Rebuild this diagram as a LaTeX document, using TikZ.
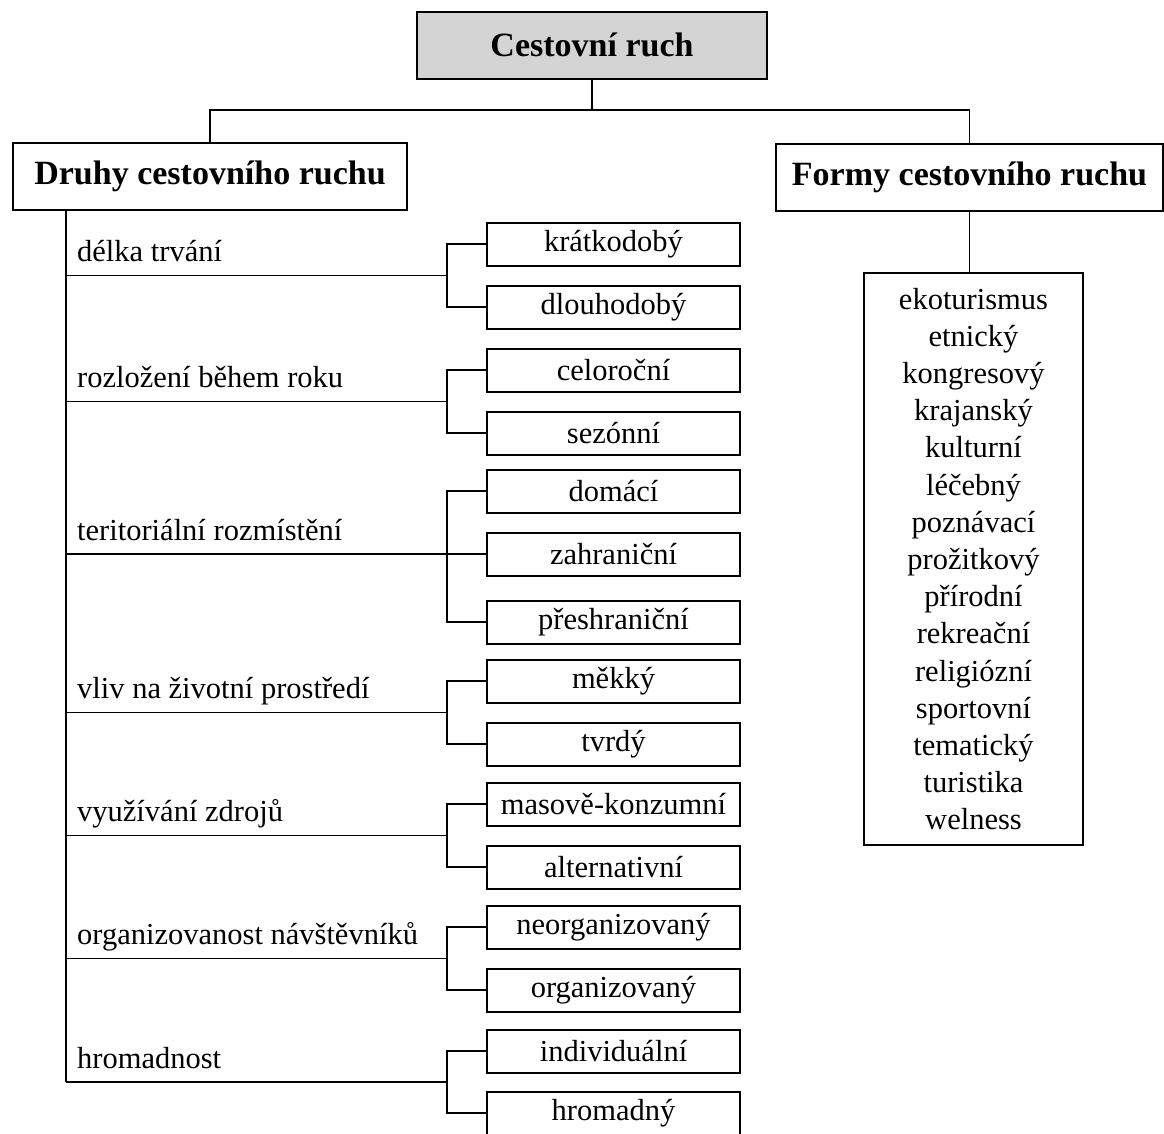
\documentclass[tikz,border=0pt]{standalone}
\usepackage{fontspec}
\setmainfont{Liberation Serif}
\usepackage{tikz}
\usetikzlibrary{positioning,calc}

\tikzset{
  headbox/.style={draw, line width=2pt, inner sep=0pt, minimum height=67pt,
    font=\fontsize{34}{40}\selectfont\bfseries},
  subbox/.style={draw, line width=2pt, inner sep=0pt, minimum width=253pt,
    minimum height=43pt, font=\fontsize{30.5}{36}\selectfont},
  catlabel/.style={anchor=base west, inner sep=0pt, font=\fontsize{30.5}{36}\selectfont},
  link/.style={line width=1.8pt}
}

\begin{document}
\begin{tikzpicture}[x=1pt, y=-1pt]
    \useasboundingbox (0,0) rectangle (1164,1133);

    % Main headings
    \node[headbox, fill=black!17, minimum width=350pt] (ruch) at (592,45) {Cestovní ruch};
    \node[headbox, minimum width=394pt] (druhy) at (210,176.5) {Druhy cestovního ruchu};
    \node[headbox, minimum width=387pt] (formy) at (969.5,177) {Formy cestovního ruchu};

    \coordinate (split) at (592,110);
    \draw[link] (ruch.south) -- (split);
    \draw[link] (druhy.north) |- (split) -| (formy.north);

    % List of forms
    \node[draw, line width=2pt, align=center, inner sep=0pt, minimum width=219pt,
          minimum height=572pt, font=\fontsize{30.5}{37.2}\selectfont] (forms) at (973.5,559)
        {ekoturismus\\etnický\\kongresový\\krajanský\\kulturní\\léčebný\\poznávací\\prožitkový\\přírodní\\rekreační\\religiózní\\sportovní\\tematický\\turistika\\welness};
    \draw[link] (formy.south) -- (formy.south |- forms.north);

    % Kinds: boxes on the right side
    \foreach \name/\y/\txt in {kratko/244/krátkodobý, dlouho/307/dlouhodobý,
        celo/370/celoroční, sezon/433/sezónní,
        domaci/491/domácí, zahran/554/zahraniční, preshr/622/přeshraniční,
        mekky/681/měkký, tvrdy/744/tvrdý,
        masove/804/masově-konzumní, altern/867/alternativní,
        neorg/927/neorganizovaný, org/990/organizovaný,
        indiv/1051/individuální, hromad/1113/hromadný} {
        \node[subbox] (\name) at (613.5,\y) {\txt};
    }

    % Brackets joining the boxes of one group
    \foreach \a/\b in {kratko/dlouho, celo/sezon, domaci/preshr, mekky/tvrdy,
        masove/altern, neorg/org, indiv/hromad} {
        \draw[link] (\a.west) -- ++(-39,0) |- (\b.west);
    }

    % Trunk and category labels
    \coordinate (trunk) at ($(druhy.south west)+(54,0)$);
    \foreach \n/\a/\b/\txt in {1/kratko/dlouho/délka trvání,
        2/celo/sezon/rozložení během roku,
        3/zahran/zahran/teritoriální rozmístění,
        4/mekky/tvrdy/vliv na životní prostředí,
        5/masove/altern/využívání zdrojů,
        6/neorg/org/organizovanost návštěvníků,
        7/indiv/hromad/hromadnost} {
        \coordinate (b\n) at ($(\a.west)!0.5!(\b.west)+(-39,0)$);
        \node[catlabel] (cat\n) at ($(b\n -| trunk)+(11,-14)$) {\txt};
        \draw[link] (b\n -| trunk) -- (b\n);
    }
    \draw[link] (b3) -- (zahran.west);
    \draw[link] (trunk) -- (b7 -| trunk);
\end{tikzpicture}
\end{document}
